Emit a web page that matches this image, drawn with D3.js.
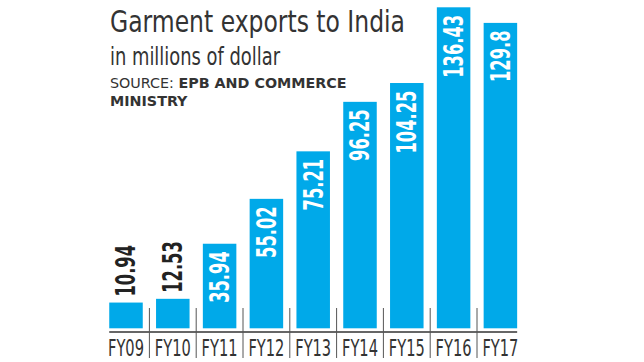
<!DOCTYPE html>
<html><head><meta charset="utf-8">
<script src="https://cdn.jsdelivr.net/npm/d3@7"></script>
<style>
body{margin:0;background:#fff;}
svg{display:block;}
</style></head>
<body><svg id="c" width="644" height="362"></svg>
<script>
const categories = ["FY09","FY10","FY11","FY12","FY13","FY14","FY15","FY16","FY17"];
const values = [10.94, 12.53, 35.94, 55.02, 75.21, 96.25, 104.25, 136.43, 129.8];
const valueLabels = ["10.94","12.53","35.94","55.02","75.21","96.25","104.25","136.43","129.8"];
const title = "Garment exports to India";
const subtitle = "in millions of dollar";
const sourceLabel = "SOURCE: ";
const sourceText1 = "EPB AND COMMERCE";
const sourceText2 = "MINISTRY";

const svg = d3.select("#c");
const blue = "#00a9e9";
const narrow = "'Liberation Sans Narrow','DejaVu Sans Condensed',sans-serif";

const x = d3.scaleBand().domain(categories).range([102.6, 523.8]).paddingInner(0.284).paddingOuter(0.142);
const y = d3.scaleLinear().domain([0, 136.43]).range([328.3, 7.3]);

// bars
svg.selectAll("rect.bar").data(categories).enter().append("rect")
  .attr("x", d => x(d)).attr("width", x.bandwidth())
  .attr("y", (d,i) => y(values[i])).attr("height", (d,i) => y(0) - y(values[i]))
  .attr("fill", blue);

// baseline
svg.append("line").attr("x1", x(categories[0])).attr("x2", x(categories[8]) + x.bandwidth())
  .attr("y1", 332).attr("y2", 332).attr("stroke", "#333").attr("stroke-width", 1.6);

// separators
categories.slice(0, -1).forEach(c => {
  const sx = x(c) + x.bandwidth()/2 + x.step()/2;
  svg.append("line").attr("x1", sx).attr("x2", sx).attr("y1", 308).attr("y2", 358)
    .attr("stroke", "#555").attr("stroke-width", 1);
});

// tick labels (compressed horizontally)
const tickG = svg.append("g");
const ticks = tickG.selectAll("text").data(categories).enter().append("text")
  .attr("font-family", narrow).attr("font-size", 23).attr("fill", "#333")
  .attr("text-anchor", "middle").attr("dy", "0.73em").text(d => d);
const tk = 36 / ticks.node().getComputedTextLength();
ticks.attr("transform", d => `translate(${x(d) + x.bandwidth()/2},339) scale(${tk},1)`);

// value labels
const vals = svg.selectAll("text.val").data(categories).enter().append("text")
  .attr("class", "val")
  .attr("text-anchor", (d,i) => values[i] > 20 ? "end" : "start")
  .attr("dy", "0.36em")
  .attr("font-family", narrow).attr("font-weight", "bold").attr("font-size", 26)
  .attr("fill", (d,i) => values[i] > 20 ? "#fff" : "#222")
  .text((d,i) => valueLabels[i]);
const vk = 63 / vals.filter((d,i) => i === 7).node().getComputedTextLength();
vals.attr("transform", (d,i) => {
  const cx = x(d) + x.bandwidth()/2;
  const inside = values[i] > 20;
  const ty = inside ? y(values[i]) + 7.5 : y(values[i]) - 6;
  return `translate(${cx},${ty}) rotate(-90) scale(${vk},1)`;
});

// title
svg.append("text").attr("x", 110).attr("y", 31.5).attr("font-family", narrow)
  .attr("font-size", 31).attr("fill", "#333").attr("textLength", 295).attr("lengthAdjust", "spacingAndGlyphs")
  .text(title);
svg.append("text").attr("x", 110).attr("y", 65).attr("font-family", narrow)
  .attr("font-size", 24).attr("fill", "#333").attr("textLength", 170).attr("lengthAdjust", "spacingAndGlyphs")
  .text(subtitle);
const s1 = svg.append("text").attr("x", 110).attr("y", 88).attr("font-family", "'DejaVu Sans',sans-serif")
  .attr("font-size", 14.3).attr("fill", "#333");
s1.append("tspan").text(sourceLabel);
s1.append("tspan").attr("font-weight", "bold").attr("font-size", 14.3).text(sourceText1);
svg.append("text").attr("x", 110).attr("y", 106).attr("font-family", "'DejaVu Sans',sans-serif")
  .attr("font-size", 14.3).attr("font-weight", "bold").attr("fill", "#333").text(sourceText2);
</script></body></html>
